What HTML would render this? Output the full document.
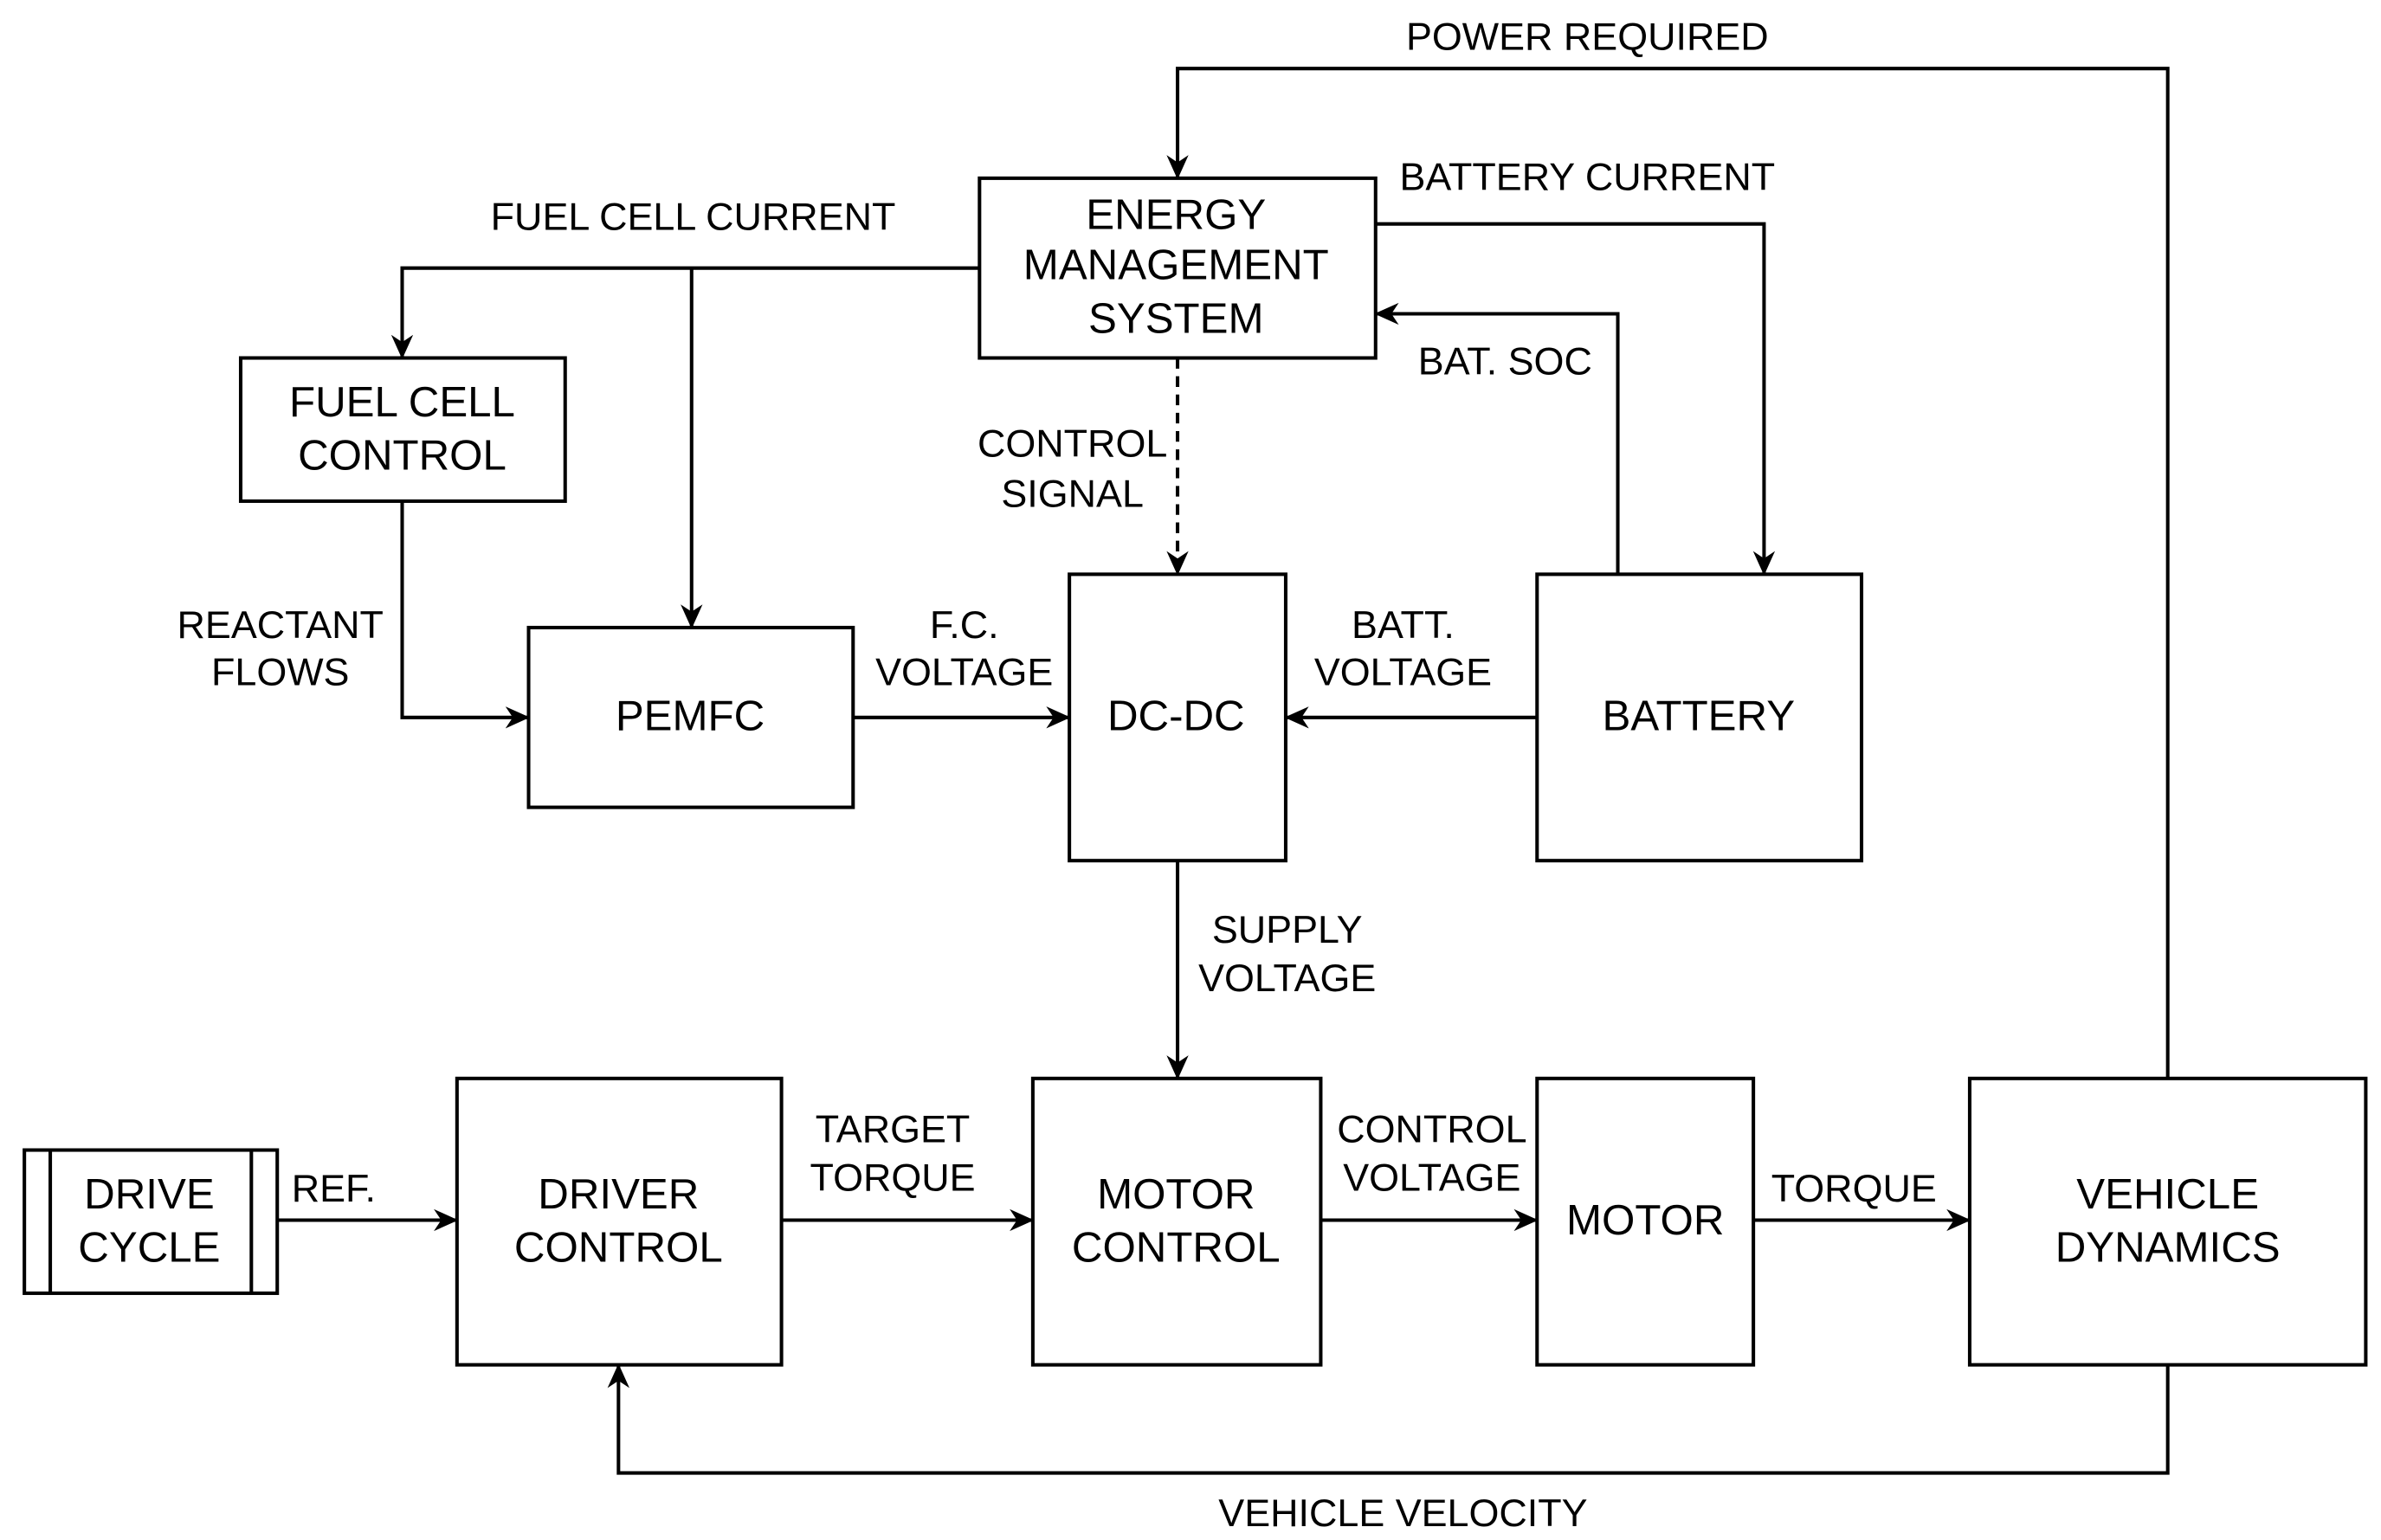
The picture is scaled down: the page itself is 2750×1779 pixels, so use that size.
<!DOCTYPE html>
<html><head><meta charset="utf-8"><style>html,body{margin:0;padding:0;background:#fff}svg{display:block}</style></head>
<body>
<svg width="2750" height="1779" viewBox="0 0 1563 1011" preserveAspectRatio="none" xmlns="http://www.w3.org/2000/svg">
<defs>
<marker id="a" viewBox="0 0 20 20" refX="19" refY="10" markerWidth="16" markerHeight="16" markerUnits="userSpaceOnUse" orient="auto">
<path d="M0,1 L20,10 L0,19 L6,10 Z" fill="#000"/>
</marker>
</defs>
<g fill="#fff" stroke="#000" stroke-width="2.3">
<rect x="643" y="117" width="260" height="118"/>
<rect x="158" y="235" width="213" height="94"/>
<rect x="347" y="412" width="213" height="118"/>
<rect x="702" y="377" width="142" height="188"/>
<rect x="1009" y="377" width="213" height="188"/>
<rect x="16" y="755" width="166" height="94"/>
<line x1="33" y1="755" x2="33" y2="849"/>
<line x1="165" y1="755" x2="165" y2="849"/>
<rect x="300" y="708" width="213" height="188"/>
<rect x="678" y="708" width="189" height="188"/>
<rect x="1009" y="708" width="142" height="188"/>
<rect x="1293" y="708" width="260" height="188"/>
</g>
<g fill="none" stroke="#000" stroke-width="2.3">
<polyline points="1423,708 1423,45 773,45 773,117" marker-end="url(#a)"/>
<polyline points="903,147 1158,147 1158,377" marker-end="url(#a)"/>
<polyline points="1062,377 1062,206 903,206" marker-end="url(#a)"/>
<polyline points="643,176 264,176 264,235" marker-end="url(#a)"/>
<polyline points="454,176 454,412" marker-end="url(#a)"/>
<polyline points="773,235 773,377" stroke-dasharray="7,5" marker-end="url(#a)"/>
<polyline points="264,329 264,471 347,471" marker-end="url(#a)"/>
<polyline points="560,471 702,471" marker-end="url(#a)"/>
<polyline points="1009,471 844,471" marker-end="url(#a)"/>
<polyline points="773,565 773,708" marker-end="url(#a)"/>
<polyline points="182,801 300,801" marker-end="url(#a)"/>
<polyline points="513,801 678,801" marker-end="url(#a)"/>
<polyline points="867,801 1009,801" marker-end="url(#a)"/>
<polyline points="1151,801 1293,801" marker-end="url(#a)"/>
<polyline points="1423,896 1423,967 406,967 406,896" marker-end="url(#a)"/>
</g>
<g font-family="Liberation Sans, Arial, sans-serif" font-size="28" text-anchor="middle" fill="#000" dominant-baseline="central">
<text x="772" y="141">ENERGY</text><text x="772" y="174">MANAGEMENT</text><text x="772" y="209">SYSTEM</text>
<text x="264" y="264">FUEL CELL</text><text x="264" y="299">CONTROL</text>
<text x="453" y="470">PEMFC</text>
<text x="772" y="470">DC-DC</text>
<text x="1115" y="470">BATTERY</text>
<text x="98" y="784">DRIVE</text><text x="98" y="819">CYCLE</text>
<text x="406" y="784">DRIVER</text><text x="406" y="819">CONTROL</text>
<text x="772" y="784">MOTOR</text><text x="772" y="819">CONTROL</text>
<text x="1080" y="801">MOTOR</text>
<text x="1423" y="784">VEHICLE</text><text x="1423" y="819">DYNAMICS</text>
</g>
<g font-family="Liberation Sans, Arial, sans-serif" font-size="25.5" text-anchor="middle" fill="#000" dominant-baseline="central">
<text x="1042" y="24">POWER REQUIRED</text>
<text x="1042" y="116">BATTERY CURRENT</text>
<text x="988" y="237">BAT. SOC</text>
<text x="455" y="142">FUEL CELL CURRENT</text>
<text x="704" y="291">CONTROL</text><text x="704" y="324">SIGNAL</text>
<text x="184" y="410">REACTANT</text><text x="184" y="441">FLOWS</text>
<text x="633" y="410">F.C.</text><text x="633" y="441">VOLTAGE</text>
<text x="921" y="410">BATT.</text><text x="921" y="441">VOLTAGE</text>
<text x="845" y="610">SUPPLY</text><text x="845" y="642">VOLTAGE</text>
<text x="219" y="780">REF.</text>
<text x="586" y="741">TARGET</text><text x="586" y="773">TORQUE</text>
<text x="940" y="741">CONTROL</text><text x="940" y="773">VOLTAGE</text>
<text x="1217" y="780">TORQUE</text>
<text x="921" y="993">VEHICLE VELOCITY</text>
</g>
</svg>
</body></html>
